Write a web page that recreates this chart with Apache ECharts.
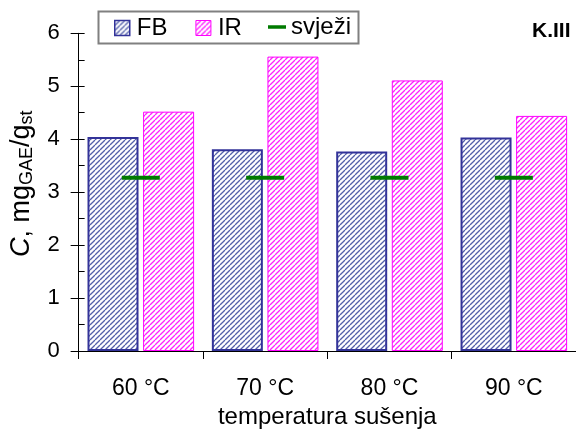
<!DOCTYPE html>
<html>
<head>
<meta charset="utf-8">
<script src="https://cdn.jsdelivr.net/npm/echarts@6/dist/echarts.min.js"></script>
<style>
html,body{margin:0;padding:0;background:#fff;}
#c{width:576px;height:434px;}
</style>
</head>
<body>
<div id="c"></div>
<script>
var categories = ['60 °C', '70 °C', '80 °C', '90 °C'];
var fbValues = [4.04, 3.81, 3.77, 4.03];
var irValues = [4.52, 5.56, 5.11, 4.44];
var freshValues = [3.27, 3.27, 3.27, 3.27];
var yTicks = [0, 1, 2, 3, 4, 5, 6];

function makeHatch(color, width) {
  var s = 5;
  var cv = document.createElement('canvas');
  cv.width = s; cv.height = s;
  var ctx = cv.getContext('2d');
  ctx.fillStyle = '#ffffff';
  ctx.fillRect(0, 0, s, s);
  ctx.strokeStyle = color;
  ctx.lineWidth = width;
  for (var k = -1; k <= 1; k++) {
    ctx.beginPath();
    ctx.moveTo(k * s, s);
    ctx.lineTo(k * s + s, 0);
    ctx.stroke();
  }
  return cv;
}
var patFB = { image: makeHatch('#5560aa', 1.3), repeat: 'repeat' };
var patIR = { image: makeHatch('#ff22ff', 1.3), repeat: 'repeat' };

var FONT = "'Liberation Sans', Arial, sans-serif";
var chart = echarts.init(document.getElementById('c'), null, { renderer: 'canvas' });

chart.setOption({
  animation: false,
  backgroundColor: '#ffffff',
  textStyle: { fontFamily: FONT, color: '#000' },
  title: {
    text: 'K.III', left: 532, top: 21, padding: 0,
    textStyle: { fontFamily: FONT, fontSize: 21, fontWeight: 'bold', color: '#000' }
  },
  graphic: [{
    type: 'rect', z: 0,
    shape: { x: 98.5, y: 11.5, width: 260, height: 32 },
    style: { fill: 'rgba(0,0,0,0)', stroke: '#808080', lineWidth: 2 }
  }],
  legend: [{
    data: [
      { name: 'FB', icon: 'rect', itemStyle: { borderColor: '#333399', borderWidth: 1.5 } },
      { name: 'IR', icon: 'rect', itemStyle: { borderColor: '#ff00ff', borderWidth: 1 } }
    ],
    left: 114, top: 16, padding: 0,
    itemWidth: 15, itemHeight: 15, itemGap: 28,
    selectedMode: false,
    textStyle: { fontFamily: FONT, fontSize: 24, color: '#000', padding: [0, 0, 0, 2] }
  }, {
    data: [{ name: 'svježi', icon: 'rect', itemStyle: { color: '#007a00', opacity: 1 } }],
    left: 268, top: 15, padding: 0,
    itemWidth: 18, itemHeight: 3.5,
    selectedMode: false,
    textStyle: { fontFamily: FONT, fontSize: 24, color: '#000' }
  }],
  grid: { left: 77, right: -10, top: 33.3, bottom: 78, containLabel: false },
  xAxis: {
    type: 'category',
    data: categories,
    name: 'temperatura sušenja',
    nameLocation: 'middle',
    nameGap: 54,
    nameTextStyle: { fontFamily: FONT, fontSize: 24, color: '#000' },
    axisLine: { show: true, lineStyle: { color: '#000', width: 1 } },
    axisTick: { show: true, length: 8, lineStyle: { color: '#000' } },
    axisLabel: { fontFamily: FONT, fontSize: 23, color: '#000', margin: 26 },
    splitLine: { show: false }
  },
  yAxis: [{
    type: 'value', min: 0, max: 6, interval: 1,
    position: 'left',
    name: '{i|C}{n|, mg}{s|GAE}{n|/g}{s|st}',
    nameLocation: 'middle',
    nameGap: 36,
    nameRotate: 90,
    nameTextStyle: {
      fontFamily: FONT, color: '#000',
      padding: [0, 0, 0, 17],
      rich: {
        i: { fontFamily: FONT, fontSize: 27, fontStyle: 'italic', lineHeight: 30, color: '#000' },
        n: { fontFamily: FONT, fontSize: 27, lineHeight: 30, color: '#000' },
        s: { fontFamily: FONT, fontSize: 18, lineHeight: 20, verticalAlign: 'bottom', color: '#000' }
      }
    },
    axisLine: { show: true, lineStyle: { color: '#000', width: 1 } },
    axisTick: { show: true, inside: false, length: 8, lineStyle: { color: '#000' } },
    axisLabel: {
      fontFamily: FONT, fontSize: 22, color: '#000', margin: 19,
      formatter: function (v) { return yTicks.indexOf(v) >= 0 ? String(v) : ''; }
    },
    splitLine: { show: false }
  }, {
    type: 'value', min: 0, max: 6, interval: 1,
    position: 'left', offset: 0,
    axisLine: { show: false },
    axisLabel: { show: false },
    axisTick: { show: true, inside: true, length: 6, lineStyle: { color: '#000' } },
    minorTick: { show: true, splitNumber: 2, length: 6, lineStyle: { color: '#000' } },
    splitLine: { show: false }
  }],
  series: [{
    name: 'FB', type: 'bar', data: fbValues,
    barWidth: 51, barGap: '9%',
    itemStyle: { color: patFB, borderColor: '#333399', borderWidth: 2 },
    emphasis: { disabled: true }
  }, {
    name: 'IR', type: 'bar', data: irValues,
    barWidth: 51,
    itemStyle: { color: patIR, borderColor: '#ff00ff', borderWidth: 1 },
    emphasis: { disabled: true }
  }, {
    name: 'svježi', type: 'scatter', data: freshValues,
    symbol: 'rect', symbolSize: [38, 4], z: 5,
    itemStyle: { color: '#007a00', opacity: 1 },
    emphasis: { disabled: true }
  }]
});
</script>
</body>
</html>
